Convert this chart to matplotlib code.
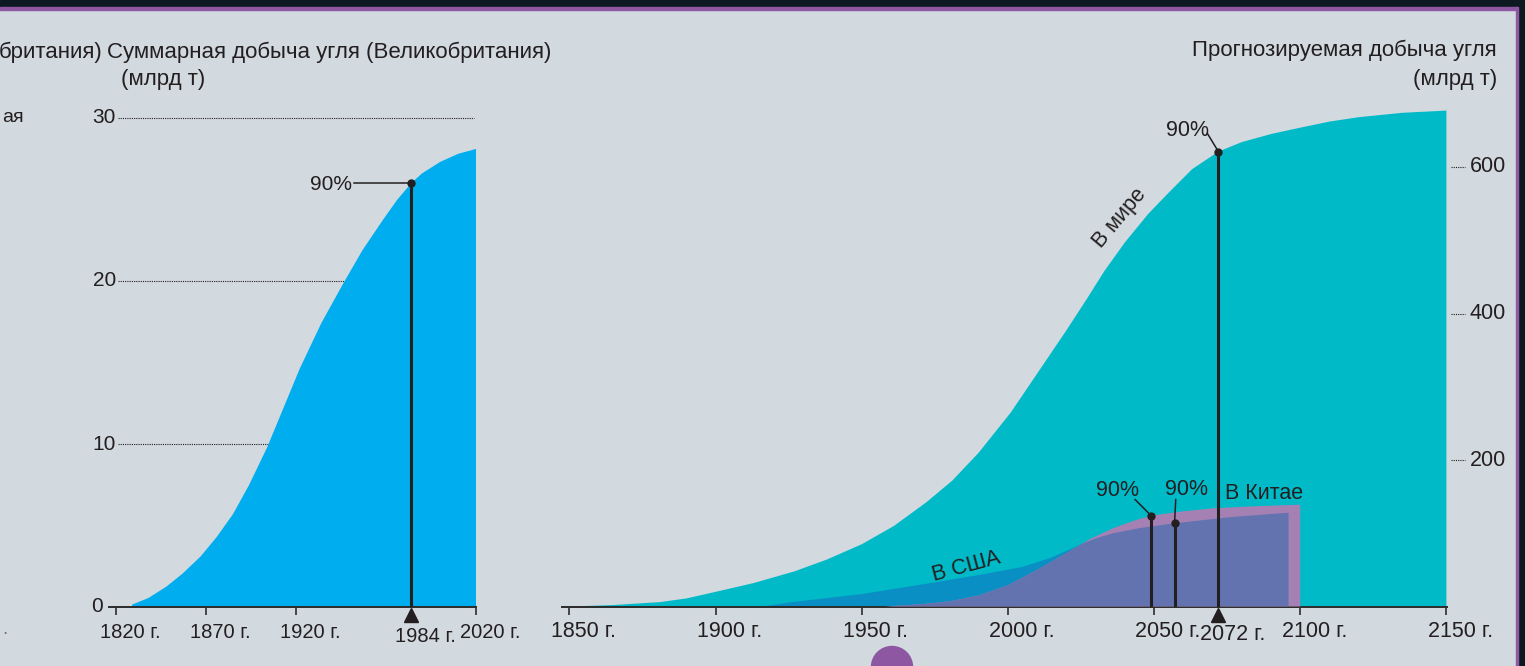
import numpy as np
import matplotlib
matplotlib.use("Agg")
import matplotlib.pyplot as plt
from matplotlib.patches import Rectangle, Circle
from matplotlib.transforms import offset_copy

plt.rcParams['font.family'] = ['Liberation Sans', 'DejaVu Sans']

# --- data: UK cumulative coal production (bn t)
uk_years = [1829, 1838, 1848, 1857, 1867, 1876, 1885, 1894, 1904, 1913, 1922,
            1934, 1946, 1957, 1968, 1976, 1984, 1990, 2000, 2010, 2020]
uk_values = [0.15, 0.55, 1.25, 2.05, 3.1, 4.3, 5.7, 7.5, 9.8, 12.2, 14.6,
             17.4, 19.8, 21.9, 23.7, 24.95, 26.0, 26.6, 27.3, 27.8, 28.1]
uk_peak = (1984, 26.0)

# --- data: projected cumulative production (bn t)
world_years = [1850, 1865, 1881, 1890, 1900, 1913, 1927, 1938, 1950, 1961, 1972,
               1981, 1990, 2001, 2010, 2020, 2027, 2033, 2040, 2048, 2055, 2063,
               2072, 2080, 2090, 2098, 2110, 2120, 2135, 2150]
world_values = [0, 2, 6, 11, 20, 32, 48, 64, 85, 110, 142,
                172, 210, 265, 318, 377, 420, 458, 497, 536, 565, 597,
                621, 634, 645, 652, 662, 668, 674, 677]
usa_years = [1916, 1926, 1950, 1972, 1990, 2005, 2015, 2025, 2030, 2036, 2045,
             2057, 2076, 2096]
usa_values = [0, 6, 17, 31, 43, 54, 67, 85, 93, 100, 107,
              113.6, 122, 128]
china_years = [1958, 1970, 1980, 1990, 2000, 2010, 2020, 2028, 2036, 2043, 2049,
               2060, 2070, 2085, 2100]
china_values = [0, 3, 7, 15, 29, 50, 73, 92, 107, 117, 124,
                130, 134, 137, 139]
world_peak = (2072, 621)
usa_peak = (2057, 113.6)
china_peak = (2049, 124)

uk_xticks = [1820, 1870, 1920, 2020]
right_xticks = [1850, 1900, 1950, 2000, 2050, 2100, 2150]
uk_yticks = [10, 20, 30]
right_yticks = [200, 400, 600]

BG = '#d2d9df'
INK = '#231f20'
UK_BLUE = '#00adee'
TEAL = '#00bac8'
USA_BLUE = '#0a8fc4'
MAUVE = '#a581b3'
SLATE = '#6273b0'

W, H = 1525, 666
fig = plt.figure(figsize=(W / 100, H / 100), dpi=100, facecolor=BG)


def px_axes(x0, top, x1, bottom):
    ax = fig.add_axes([x0 / W, 1 - bottom / H, (x1 - x0) / W, (bottom - top) / H])
    ax.set_facecolor('none')
    for s in ['left', 'right', 'top']:
        ax.spines[s].set_visible(False)
    ax.spines['bottom'].set_color('#2b2b2b')
    ax.spines['bottom'].set_linewidth(1.4)
    ax.tick_params(axis='x', direction='out', length=6, width=1.2, color='#2b2b2b',
                   labelbottom=False)
    ax.tick_params(axis='y', left=False, labelleft=False)
    return ax


# overlay for frame and stray texts
ov = fig.add_axes([0, 0, 1, 1])
ov.set_xlim(0, W)
ov.set_ylim(H, 0)
ov.axis('off')
ov.add_patch(Rectangle((0, 0), W, 7, color='#0d1921'))
ov.add_patch(Rectangle((0, 7), W, 2.5, color='#8e57a2'))
ov.add_patch(Rectangle((1518, 0), 7, H, color='#0d1921'))
ov.add_patch(Rectangle((1515.5, 7), 2.5, H, color='#8e57a2'))
ov.add_patch(Circle((892, 667), 20.5, color='#8e57a2'))
ov.text(102, 52, 'британия)', ha='right', va='center', fontsize=16, color=INK)
ov.text(2, 117, 'ая', ha='left', va='center', fontsize=14, color=INK)
ov.text(2, 630, '.', ha='left', va='center', fontsize=14, color='#777777')
ov.text(107, 52, 'Суммарная добыча угля (Великобритания)', ha='left', va='center',
        fontsize=16, color=INK)
ov.text(121, 79, '(млрд т)', ha='left', va='center', fontsize=16, color=INK)
ov.text(1497, 50, 'Прогнозируемая добыча угля', ha='right', va='center',
        fontsize=16, color=INK)
ov.text(1497, 79, '(млрд т)', ha='right', va='center', fontsize=16, color=INK)

# ---------------- left: UK
ax1 = px_axes(109, 100, 476, 607)
ax1.set_xlim(2020 - (476 - 109) / 1.8, 2020)
ax1.set_ylim(0, (607 - 100) / 16.3)
ax1.set_xticks(uk_xticks)
for v in uk_yticks:
    ax1.plot([1821, 2019], [v, v], color=INK, lw=0.8, ls=(0, (1, 1)), zorder=1)
    ax1.annotate(str(v), xy=(0, v), xycoords=('axes fraction', 'data'),
                 xytext=(7, 0), textcoords='offset pixels', ha='right', va='center',
                 fontsize=15, color=INK)
ax1.annotate('0', xy=(0, 0), xycoords=('axes fraction', 'data'), xytext=(-6, 0),
             textcoords='offset pixels', ha='right', va='center', fontsize=15, color=INK)
ax1.fill(uk_years + [uk_years[-1], uk_years[0]], uk_values + [0, 0],
         color=UK_BLUE, lw=0, zorder=2)
for yr in uk_xticks:
    ax1.annotate(f'{yr} г.', xy=(yr, 0), xycoords=('data', 'axes fraction'),
                 xytext=(14, -25), textcoords='offset pixels', ha='center', va='center',
                 fontsize=14.5, color=INK)
ax1.annotate(f'{uk_peak[0]} г.', xy=(uk_peak[0], 0), xycoords=('data', 'axes fraction'),
             xytext=(14, -29), textcoords='offset pixels', ha='center', va='center',
             fontsize=14.5, color=INK)
ax1.plot([uk_peak[0], uk_peak[0]], [0, uk_peak[1]], color=INK, lw=2.2, zorder=3)
ax1.plot([1952, uk_peak[0]], [uk_peak[1], uk_peak[1]], color=INK, lw=1.1, zorder=3)
ax1.plot(*uk_peak, 'o', color=INK, ms=5, zorder=4)
ax1.text(1951, uk_peak[1] - 0.1, '90%', ha='right', va='center', fontsize=15, color=INK)
ax1.plot([uk_peak[0]], [0], marker='^', ms=10.5, color=INK, clip_on=False, zorder=5,
         transform=offset_copy(ax1.transData, fig, x=0, y=-8, units='dots'))

# ---------------- right: projection
ax2 = px_axes(561.7, 90, 1447, 606.5)
ax2.set_xlim(1850 - (569.5 - 561.7) / 2.923, 1850 + (1447 - 569.5) / 2.923)
ax2.set_ylim(0, (606.5 - 90) / 0.7325)
ax2.set_xticks(right_xticks)
ax2.fill(world_years + [world_years[-1], world_years[0]], world_values + [0, 0],
         color=TEAL, lw=0, zorder=1)
usa_patch = ax2.fill(usa_years + [usa_years[-1], usa_years[0]], usa_values + [0, 0],
                     color=USA_BLUE, lw=0, zorder=2)[0]
ax2.fill(china_years + [china_years[-1], china_years[0]], china_values + [0, 0],
         color=MAUVE, lw=0, zorder=3)
both = ax2.fill(china_years + [china_years[-1], china_years[0]], china_values + [0, 0],
                color=SLATE, lw=0, zorder=4)[0]
both.set_clip_path(usa_patch)

for yr in right_xticks:
    ax2.annotate(f'{yr} г.', xy=(yr, 0), xycoords=('data', 'axes fraction'),
                 xytext=(14, -25), textcoords='offset pixels', ha='center', va='center',
                 fontsize=15.5, color=INK)
ax2.annotate(f'{world_peak[0]} г.', xy=(world_peak[0], 0),
             xycoords=('data', 'axes fraction'), xytext=(14, -28),
             textcoords='offset pixels', ha='center', va='center', fontsize=15.5, color=INK)
ax2.plot([world_peak[0]], [0], marker='^', ms=10.5, color=INK, clip_on=False, zorder=6,
         transform=offset_copy(ax2.transData, fig, x=0, y=-8, units='dots'))

for v in right_yticks:
    ax2.plot([1.004, 1.02], [v, v], transform=ax2.get_yaxis_transform(), color=INK,
             lw=0.8, ls=(0, (1, 1)), clip_on=False)
    ax2.annotate(str(v), xy=(1, v), xycoords=('axes fraction', 'data'), xytext=(23, 0),
                 textcoords='offset pixels', ha='left', va='center', fontsize=15.5, color=INK)

for (yr, val), lab, tail in [(world_peak, (2061.3, 650), (2068.2, 646)),
                             (china_peak, (2037.6, 159), (2043.5, 146)),
                             (usa_peak, (2061.0, 160), (2057.4, 146))]:
    ax2.plot([yr, yr], [0, val], color=INK, lw=2.2, zorder=7)
    ax2.plot([tail[0], yr], [tail[1], val], color=INK, lw=1.1, zorder=7)
    ax2.plot(yr, val, 'o', color=INK, ms=5, zorder=8)
    ax2.text(lab[0], lab[1], '90%', ha='center', va='center', fontsize=15.5, color=INK)

ax2.text(2038.3, 530, 'В мире', rotation=50, ha='center', va='center',
         fontsize=15.5, color=INK, zorder=9)
ax2.text(1985.7, 55, 'В США', rotation=15, ha='center', va='center',
         fontsize=15.5, color=INK, zorder=9)
ax2.text(2074.1, 154, 'В Китае', ha='left', va='center', fontsize=15.5, color=INK, zorder=9)

fig.savefig('out.png', dpi=100, facecolor=BG)
